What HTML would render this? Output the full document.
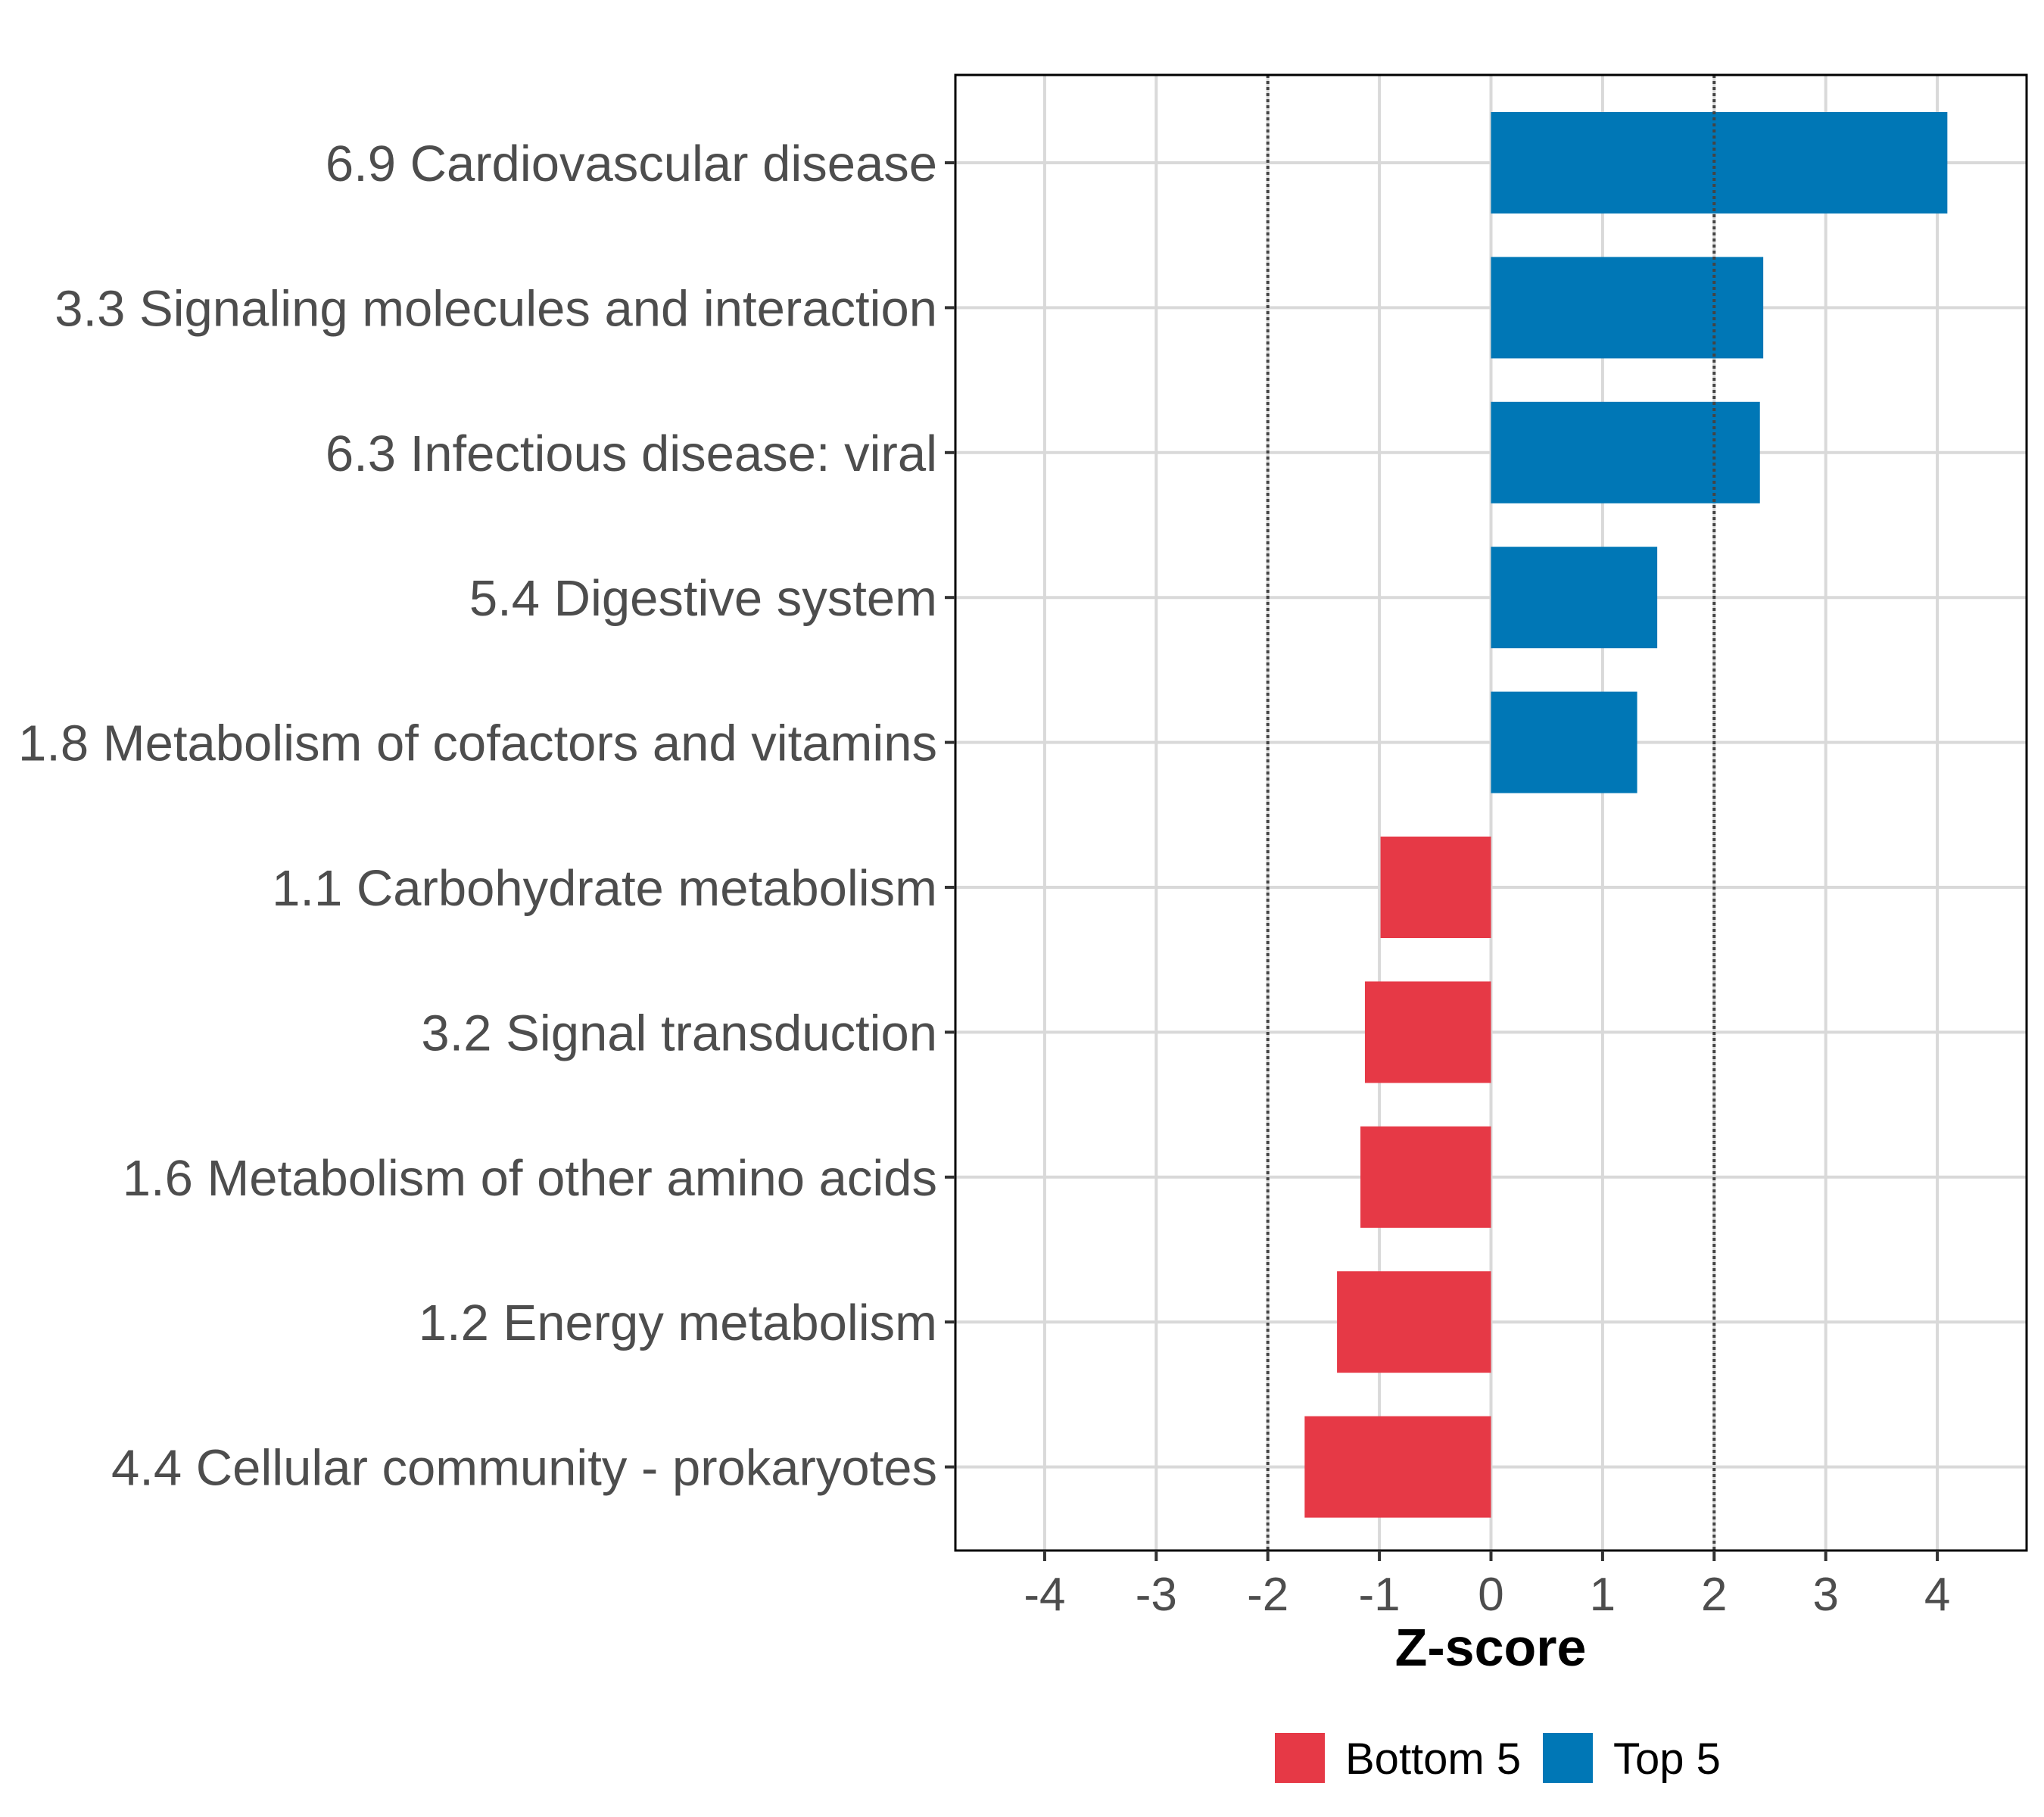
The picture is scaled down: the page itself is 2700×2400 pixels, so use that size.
<!DOCTYPE html>
<html><head><meta charset="utf-8"><style>
html,body{margin:0;padding:0;background:#fff;}
svg{display:block;font-family:"Liberation Sans",Arial,sans-serif;}
</style></head><body>
<svg id="chart" width="2700" height="2400" viewBox="0 0 2700 2400">
<rect width="2700" height="2400" fill="#fff"/>
<g id="grid"></g>
<g id="bars"></g>
<g id="refs"></g>
<rect x="1262" y="99" width="1415" height="1949" fill="none" stroke="#000" stroke-width="3"/>
<g id="yaxis"></g>
<g id="xaxis"></g>
<text x="1969" y="2200" text-anchor="middle" font-size="70" font-weight="bold" fill="#000">Z-score</text>
<g>
<rect x="1684" y="2289" width="66" height="66" fill="#E63946"/>
<text x="1777" y="2343" font-size="58" fill="#000">Bottom 5</text>
<rect x="2038" y="2289" width="66" height="66" fill="#0077B6"/>
<text x="2131" y="2343" font-size="58" fill="#000">Top 5</text>
</g>
</svg>
<script>
const categories = ["6.9 Cardiovascular disease","3.3 Signaling molecules and interaction","6.3 Infectious disease: viral","5.4 Digestive system","1.8 Metabolism of cofactors and vitamins","1.1 Carbohydrate metabolism","3.2 Signal transduction","1.6 Metabolism of other amino acids","1.2 Energy metabolism","4.4 Cellular community - prokaryotes"];
const zscores = [4.09, 2.44, 2.41, 1.49, 1.31, -0.99, -1.13, -1.17, -1.38, -1.67];
const groups = ["Top 5","Top 5","Top 5","Top 5","Top 5","Bottom 5","Bottom 5","Bottom 5","Bottom 5","Bottom 5"];
const xTicks = [-4,-3,-2,-1,0,1,2,3,4];
const refLines = [-2, 2];

const NS="http://www.w3.org/2000/svg";
const X0=1262, X1=2677, Y0=99, Y1=2048, XMIN=-4.8, XMAX=4.8;
const xs=v=>X0+(v-XMIN)/(XMAX-XMIN)*(X1-X0);
const rowStep=191.4, firstRow=215;
const ys=i=>firstRow+i*rowStep;
const colors={"Top 5":"#0077B6","Bottom 5":"#E63946"};
function mk(tag,attrs,parent){const e=document.createElementNS(NS,tag);for(const k in attrs)e.setAttribute(k,attrs[k]);parent.appendChild(e);return e;}
const grid=document.getElementById('grid'),bars=document.getElementById('bars'),refs=document.getElementById('refs'),yax=document.getElementById('yaxis'),xax=document.getElementById('xaxis');
xTicks.forEach(t=>{
  const l=mk('line',{x1:xs(t),x2:xs(t),y1:Y0,y2:Y1,stroke:'#d9d9d9','stroke-width':4},grid);
  
  
  const tk=mk('line',{x1:xs(t),x2:xs(t),y1:Y1,y2:Y1+14,stroke:'#333','stroke-width':4},xax);
  
  
  const tx=mk('text',{x:xs(t),y:2127,'text-anchor':'middle','font-size':62,fill:'#4d4d4d'},xax);
  tx.textContent=(t<0?'-'+Math.abs(t):String(t));
  
  
});
categories.forEach((c,i)=>{
  const l=mk('line',{x1:X0,x2:X1,y1:ys(i),y2:ys(i),stroke:'#d9d9d9','stroke-width':4},grid);
  
  
  const v=zscores[i];
  const b=mk('rect',{x:Math.min(xs(0),xs(v)),y:ys(i)-67,width:Math.abs(xs(v)-xs(0)),height:134,fill:colors[groups[i]]},bars);
  
  
  const tk=mk('line',{x1:X0-14,x2:X0,y1:ys(i),y2:ys(i),stroke:'#333','stroke-width':4},yax);
  
  
  const tx=mk('text',{x:1238,y:ys(i)+24,'text-anchor':'end','font-size':67,fill:'#4d4d4d'},yax);
  tx.textContent=c;
  
  
});
refLines.forEach(r=>{
  const l=mk('line',{x1:xs(r),x2:xs(r),y1:Y0,y2:Y1,stroke:'#444','stroke-width':4,'stroke-dasharray':'4 4'},refs);
  
  
});
</script>
</body></html>
